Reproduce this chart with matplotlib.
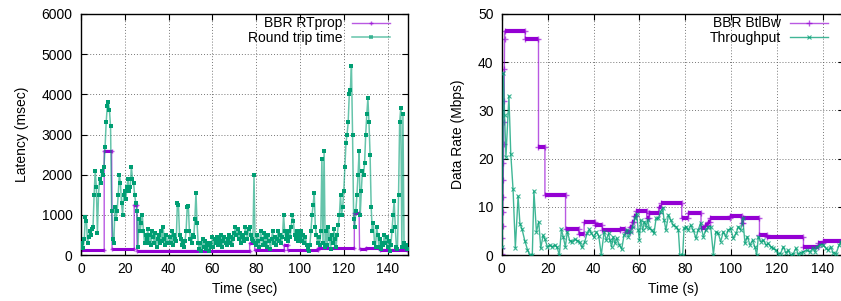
import numpy as np
import matplotlib
matplotlib.use('Agg')
import matplotlib.pyplot as plt

plt.rcParams['font.family'] = ['Liberation Sans', 'DejaVu Sans']
plt.rcParams['font.size'] = 10

PURPLE = '#9400d3'
GREEN = '#009e73'

# ---- left panel: latency ----
# round trip time samples (ms), one every 0.5 s
rtt_ms = [
    200, 300, 180, 400, 950, 850, 300, 450, 600, 500, 650, 700, 1500, 2100, 1700, 550, 1500, 1900, 1800, 2100,
    2000, 2200, 2700, 3300, 3700, 3800, 3600, 3200, 1100, 400, 300, 1200, 900, 1100, 1500, 2000, 1800, 1300, 1000, 1500,
    1600, 1400, 1700, 1900, 1600, 1700, 2200, 1900, 1800, 1500, 1300, 1100, 200, 900, 600, 800, 1000, 600, 300, 500,
    400, 650, 300, 500, 250, 600, 450, 300, 550, 200, 400, 500, 300, 600, 350, 700, 400, 250, 500, 300,
    300, 450, 300, 600, 250, 500, 400, 350, 1300, 1250, 500, 400, 250, 300, 200, 350, 600, 1200, 1230, 600,
    400, 300, 500, 450, 900, 1550, 800, 300, 150, 300, 100, 400, 200, 350, 150, 300, 250, 100, 300, 200,
    450, 200, 400, 300, 450, 250, 400, 300, 500, 200, 350, 450, 300, 250, 400, 500, 300, 450, 250, 400,
    550, 700, 500, 650, 400, 550, 300, 500, 450, 350, 700, 550, 400, 650, 700, 500, 400, 350, 2000, 300,
    250, 500, 350, 200, 600, 400, 250, 550, 300, 450, 200, 500, 350, 150, 400, 600, 300, 450, 250, 400,
    600, 350, 500, 300, 450, 1000, 600, 400, 500, 350, 600, 450, 700, 1000, 850, 500, 400, 600, 350, 500,
    450, 600, 350, 500, 300, 450, 250, 150, 100, 250, 600, 1000, 1250, 1550, 700, 500, 300, 450, 250, 600,
    2400, 300, 2600, 200, 600, 250, 700, 400, 150, 500, 300, 650, 400, 200, 500, 750, 1000, 1500, 1000, 1200,
    1600, 2200, 2800, 3000, 3300, 4000, 4100, 4700, 3000, 900, 700, 1100, 1500, 2000, 2600, 1000, 1600, 2100, 2000, 2300,
    3000, 3500, 3900, 3300, 2500, 1200, 600, 800, 300, 200, 700, 500, 200, 400, 150, 300, 250, 500, 300, 450,
    200, 350, 100, 250, 600, 1000, 1350, 700, 200, 150, 1500, 3300, 3650, 200, 3500, 300, 200, 250, 150,
]
rtt_dt = 0.5

# BBR RTprop estimate: constant runs (start s, end s, value ms)
rtprop_start = [0.0, 10.6, 14.2, 24.3, 25.6, 77.0, 79.3, 92.8, 94.3, 108.0, 124.8, 127.2, 130.0, 136.5]
rtprop_end = [10.6, 14.0, 24.3, 25.5, 77.0, 79.3, 92.8, 94.3, 108.0, 124.8, 127.0, 130.0, 136.5, 149.0]
rtprop_ms = [120, 2600, 150, 1250, 110, 300, 115, 250, 120, 165, 1040, 160, 180, 135]

# ---- right panel: data rate ----
bw_rise_t = [0.0, 0.1, 0.2, 0.3, 0.4, 0.5, 0.6, 0.7, 0.8, 0.9, 1.0, 1.1, 1.2]
bw_rise_v = [0.3, 1.5, 3.5, 6, 9, 12, 15.5, 19, 23, 27.5, 32, 38.5, 44.8]
bw_start = [1.3, 10.2, 16.0, 18.8, 27.8, 33.5, 35.9, 40.8, 43.8, 51.5, 53.8, 55.9, 56.9, 57.8, 58.7, 63.2, 64.2,
            68.4, 69.6, 78.5, 81.4, 86.9, 88.6, 89.8, 90.8, 99.5, 104.6, 105.4, 112.4, 115.6, 131.6, 138.1, 140.3]
bw_end = [10.2, 16.0, 18.8, 27.8, 33.5, 35.9, 40.8, 43.8, 51.5, 53.8, 55.9, 56.9, 57.8, 58.7, 63.2, 64.2, 68.4,
          69.6, 78.5, 81.4, 86.9, 88.6, 89.8, 90.8, 99.5, 104.6, 105.4, 112.4, 115.6, 131.6, 138.1, 140.3, 149.3]
bw_mbps = [46.5, 44.8, 22.5, 12.5, 5.3, 4.3, 6.8, 6.3, 5.2, 5.4, 4.8, 5.9, 6.9, 8.0, 9.1, 7.6, 8.8,
           9.9, 10.7, 7.6, 8.8, 5.5, 6.2, 6.8, 7.6, 8.1, 6.6, 7.6, 4.1, 3.7, 1.6, 2.4, 2.9]

tput_t = [0.1, 0.7, 1.2, 1.8, 3.1, 3.9, 4.9, 5.9, 7.1, 7.9, 8.8, 10.0, 11.2, 12.2, 13.3, 14.0, 15.1, 16.1, 17.0,
          18.0, 18.7, 19.9, 20.9, 21.9, 23.1, 24.1, 25.1, 26.0, 26.8, 27.7, 28.6, 29.6, 30.6, 31.8, 33.0, 34.0,
          35.0, 36.2, 37.2, 38.2, 39.1, 40.2, 41.3, 42.3, 43.4, 44.6, 45.6, 46.6, 47.2, 47.9, 48.6, 49.4, 50.1,
          51.3, 52.3, 53.3, 54.5, 55.2, 56.2, 57.1, 58.1, 58.8, 59.5, 60.0, 60.6, 61.5, 62.2, 63.0, 63.7, 64.4,
          65.4, 66.4, 67.3, 68.3, 69.3, 70.2, 70.8, 71.6, 72.7, 73.7, 74.8, 76.0, 77.0, 77.7, 78.9, 79.5, 80.3,
          81.4, 82.4, 83.5, 84.7, 85.7, 86.7, 87.9, 89.1, 90.1, 91.1, 92.3, 93.4, 94.4, 95.5, 96.6, 97.8, 98.8,
          99.8, 101.0, 102.2, 103.2, 104.2, 105.1, 106.1, 107.1, 108.3, 109.4, 110.4, 111.2, 111.9, 112.9,
          114.1, 115.2, 116.2, 117.3, 118.4, 119.6, 120.6, 121.6, 122.8, 123.9, 125.0, 126.0, 127.2, 128.3,
          129.4, 130.4, 131.6, 133.0, 134.5, 135.6, 136.6, 137.6, 138.8, 140.3, 141.4, 142.4, 143.4, 144.6,
          145.8, 147.2, 148.0]
tput_mbps = [1.6, 37.7, 29.0, 20.4, 33.0, 21.0, 13.6, 1.5, 12.2, 6.5, 5.4, 3.0, 1.1, 0.0, 0.0, 13.3, 4.8, 6.9, 1.4,
             4.1, 3.4, 1.7, 2.1, 1.7, 2.1, 1.6, 0.0, 5.3, 3.8, 1.7, 4.8, 3.0, 2.8, 3.3, 3.0, 2.6,
             1.6, 2.8, 4.5, 5.3, 4.5, 3.7, 4.8, 3.9, 0.0, 4.8, 3.1, 4.5, 3.1, 1.7, 3.8, 2.4, 3.5,
             2.1, 1.2, 4.1, 5.2, 3.8, 4.8, 5.9, 7.6, 8.6, 5.2, 3.1, 7.2, 5.2, 6.9, 5.9, 7.2, 5.5,
             5.2, 4.5, 7.6, 7.6, 9.0, 9.7, 7.2, 5.2, 8.3, 7.2, 6.2, 5.9, 5.2, 0.0, 0.0, 5.5, 5.9,
             5.2, 6.2, 5.2, 3.5, 5.2, 6.6, 3.8, 5.2, 5.9, 5.9, 0.1, 4.8, 4.5, 2.8, 4.8, 3.8, 5.2,
             5.5, 3.5, 4.5, 5.9, 5.2, 7.6, 2.4, 3.8, 2.1, 3.1, 1.7, 0.0, 3.8, 2.8,
             3.1, 2.1, 2.4, 1.7, 1.4, 1.0, 0.3, 0.3, 1.7, 0.5, 1.0, 0.0, 0.3, 1.4,
             0.2, 0.5, 0.7, 1.0, 0.7, 1.4, 0.7, 1.7, 2.1, 2.1, 1.4, 1.0, 1.7, 0.5,
             0.3, 2.1, 2.8]


def style_axes(ax):
    ax.tick_params(direction='in', top=True, right=True, length=4, width=0.8, pad=6, colors='black')
    ax.tick_params(axis='x', pad=5)
    for s in ax.spines.values():
        s.set_linewidth(1.0)
    ax.grid(True, color='#555555', linestyle=(0, (1, 2)), linewidth=0.7, alpha=0.8)
    ax.set_axisbelow(True)


fig = plt.figure(figsize=(8.41, 3.01), dpi=100)
ax1 = fig.add_axes([0.0963, 0.1528, 0.3888, 0.8007])
ax2 = fig.add_axes([0.5967, 0.1528, 0.4069, 0.8007])

# left
rt_x, rt_y = [], []
for s, e, v in zip(rtprop_start, rtprop_end, rtprop_ms):
    rt_x += [s, e]
    rt_y += [v, v]
ax1.hlines(rtprop_ms, rtprop_start, rtprop_end, color=PURPLE, linewidth=2.2, zorder=2)
ax1.plot(rt_x, rt_y, color=PURPLE, linewidth=1.0, alpha=0.65, marker='+', markersize=3,
         markeredgecolor=PURPLE, label='BBR RTprop', zorder=2)
rtt_t = np.arange(len(rtt_ms)) * rtt_dt
ax1.plot(rtt_t, rtt_ms, color=GREEN, linewidth=1.1, alpha=0.6, marker='s', markersize=2.5,
         markeredgewidth=0, markerfacecolor=GREEN, label='Round trip time', zorder=3)
ax1.plot(rtt_t, rtt_ms, linestyle='none', marker='s', markersize=2.5, markeredgewidth=0,
         color=GREEN, zorder=4)
ax1.set_xlim(0, 149.3)
ax1.set_ylim(0, 6000)
ax1.set_xticks(range(0, 141, 20))
ax1.set_yticks(range(0, 6001, 1000))
ax1.set_xlabel('Time (sec)', labelpad=4)
ax1.set_ylabel('Latency (msec)', labelpad=9)
style_axes(ax1)
ax1.legend(loc='upper right', bbox_to_anchor=(0.945, 0.99), frameon=False, markerfirst=False,
           handlelength=2.75, handletextpad=0.65, labelspacing=0.05, borderpad=0, borderaxespad=0)

# right
bw_x = list(bw_rise_t)
bw_y = list(bw_rise_v)
for s, e, v in zip(bw_start, bw_end, bw_mbps):
    bw_x += [s, e]
    bw_y += [v, v]
ax2.hlines(bw_mbps, bw_start, bw_end, color=PURPLE, linewidth=3.0, zorder=2)
ax2.plot(bw_x, bw_y, color=PURPLE, linewidth=1.0, alpha=0.65, marker='+', markersize=4,
         markeredgecolor=PURPLE, label='BBR BtlBw', zorder=2)
ax2.plot(tput_t, tput_mbps, color=GREEN, linewidth=1.0, alpha=0.75, marker='x', markersize=3,
         markeredgecolor=GREEN, markeredgewidth=0.8, label='Throughput', zorder=3)
ax2.set_xlim(0, 149.3)
ax2.set_ylim(0, 50)
ax2.set_xticks(range(0, 141, 20))
ax2.set_yticks(range(0, 51, 10))
ax2.set_xlabel('Time (s)', labelpad=4)
ax2.set_ylabel('Data Rate (Mbps)', labelpad=9)
style_axes(ax2)
ax2.legend(loc='upper right', bbox_to_anchor=(0.954, 0.99), frameon=False, markerfirst=False,
           handlelength=2.75, handletextpad=0.65, labelspacing=0.05, borderpad=0, borderaxespad=0)

fig.savefig('out.png', dpi=100)
